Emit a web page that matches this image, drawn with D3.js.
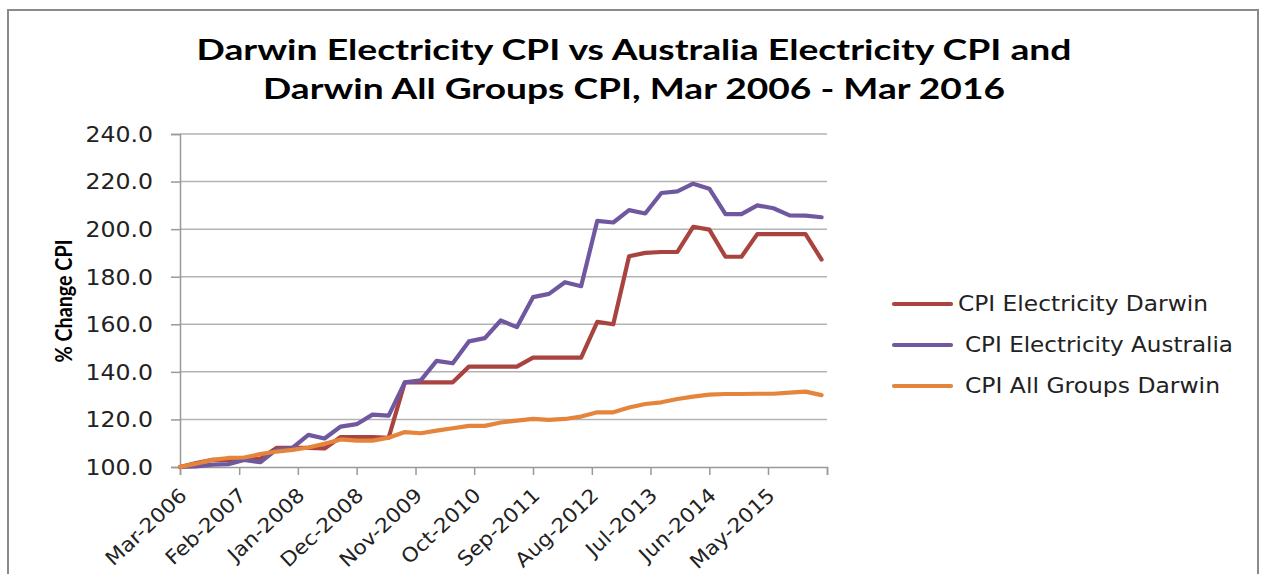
<!DOCTYPE html>
<html>
<head>
<meta charset="utf-8">
<script src="https://cdn.jsdelivr.net/npm/d3@7"></script>
<style>
  body { margin: 0; background: #fff; }
  svg { display: block; }
</style>
</head>
<body>
<svg id="chart"></svg>
<script>
const width = 1263;
const height = 574;

// quarterly observations, Mar 2006 - Mar 2016
var quarters = [
  "2006-03","2006-06","2006-09","2006-12","2007-03","2007-06","2007-09","2007-12",
  "2008-03","2008-06","2008-09","2008-12","2009-03","2009-06","2009-09","2009-12",
  "2010-03","2010-06","2010-09","2010-12","2011-03","2011-06","2011-09","2011-12",
  "2012-03","2012-06","2012-09","2012-12","2013-03","2013-06","2013-09","2013-12",
  "2014-03","2014-06","2014-09","2014-12","2015-03","2015-06","2015-09","2015-12",
  "2016-03"
];

var elecDarwin = [
  100, 101.7, 103, 103, 103.2, 103.5, 108, 108, 108, 107.8,
  112.6, 112.6, 112.6, 112.3, 135.6, 135.6, 135.6, 135.6, 142.2, 142.2,
  142.2, 142.2, 146, 146, 146, 146, 161, 160, 188.6, 190,
  190.4, 190.4, 201, 199.8, 188.4, 188.4, 197.9, 197.9, 197.9, 197.9,
  187.2
];

var elecAustralia = [
  100, 100.2, 101, 101.2, 103, 102, 107.3, 108, 113.5, 112,
  117, 118, 122, 121.6, 135.6, 136.4, 144.6, 143.6, 152.8, 154.2,
  161.6, 158.8, 171.4, 172.8, 177.7, 176, 203.5, 202.8, 208, 206.6,
  215.2, 215.9, 219.1, 217, 206.3, 206.3, 210, 208.8, 205.8, 205.7,
  205
];

var allGroupsDarwin = [
  100, 101.4, 103, 103.8, 104, 105.4, 106.5, 107.2, 108.2, 109.8,
  111.6, 111.1, 111.1, 112.3, 114.7, 114.2, 115.3, 116.3, 117.3, 117.3,
  118.7, 119.5, 120.2, 119.8, 120.2, 121.2, 123, 123, 125, 126.5,
  127.2, 128.6, 129.6, 130.4, 130.7, 130.7, 130.8, 130.8, 131.3, 131.7,
  130.2
];

var seriesNames = ["CPI Electricity Darwin", "CPI Electricity Australia", "CPI All Groups Darwin"];
var seriesColors = ["#A9433F", "#6F58A0", "#E5853C"];

var yTicks = [100, 120, 140, 160, 180, 200, 220, 240];
var xTickLabels = ["Mar-2006", "Feb-2007", "Jan-2008", "Dec-2008", "Nov-2009", "Oct-2010",
                   "Sep-2011", "Aug-2012", "Jul-2013", "Jun-2014", "May-2015"];
var xAxisEnd = "Apr-2016";

var titleLines = ["Darwin Electricity CPI vs Australia Electricity CPI and",
                  "Darwin All Groups CPI, Mar 2006 - Mar 2016"];

var parseQ = d3.timeParse("%Y-%m");
var parseTick = d3.timeParse("%b-%Y");

var plot = { left: 180, right: 827, top: 134, bottom: 467 };

var xScale = d3.scaleTime()
  .domain([parseTick(xTickLabels[0]), parseTick(xAxisEnd)])
  .range([plot.left, plot.right]);
var yScale = d3.scaleLinear().domain([100, 240]).range([plot.bottom, plot.top]);

var svg = d3.select("#chart").attr("width", width).attr("height", height);

// stretch text horizontally the way the source picture is
function stretch(sel, k) {
  sel.each(function() {
    var w = this.getComputedTextLength();
    d3.select(this).attr("textLength", w * k).attr("lengthAdjust", "spacingAndGlyphs");
  });
}

svg.append("rect")
  .attr("x", 8).attr("y", 10).attr("width", 1250).attr("height", 600)
  .attr("fill", "none").attr("stroke", "#8a8a8a").attr("stroke-width", 2);

// title
svg.selectAll("text.title")
  .data(titleLines)
  .enter()
  .append("text")
  .attr("class", "title")
  .attr("x", 634)
  .attr("y", (d, i) => 60 + i * 39)
  .attr("text-anchor", "middle")
  .attr("font-family", "Lato, 'Open Sans', sans-serif")
  .attr("font-weight", "bold")
  .attr("font-size", 29)
  .attr("fill", "#000")
  .attr("textLength", (d, i) => i == 0 ? 875 : 742)
  .attr("lengthAdjust", "spacingAndGlyphs")
  .text(d => d);

// gridlines
svg.append("g")
  .selectAll("line")
  .data(yTicks.slice(1))
  .enter()
  .append("line")
  .attr("x1", plot.left).attr("x2", plot.right)
  .attr("y1", d => yScale(d)).attr("y2", d => yScale(d))
  .attr("stroke", "#b3b3b3").attr("stroke-width", 1.5);

// y axis
var yAxis = svg.append("g")
  .attr("transform", `translate(${plot.left},0)`)
  .call(d3.axisLeft(yScale).tickValues(yTicks).tickSize(9).tickPadding(18).tickFormat(d3.format(".1f")));
yAxis.select(".domain").attr("stroke", "#999").attr("stroke-width", 1.5);
yAxis.selectAll(".tick line").attr("stroke", "#999").attr("stroke-width", 1.5);
yAxis.selectAll(".tick text")
  .attr("font-family", "'DejaVu Sans', Verdana, sans-serif")
  .attr("font-size", 20.5)
  .attr("fill", "#222")
  .attr("dy", "0.36em");
stretch(yAxis.selectAll(".tick text"), 1.15);

// x axis
var xTicks = xTickLabels.map(parseTick).concat([parseTick(xAxisEnd)]);
var xAxis = svg.append("g")
  .attr("transform", `translate(0,${plot.bottom})`)
  .call(d3.axisBottom(xScale).tickValues(xTicks).tickSize(8).tickFormat(""));
xAxis.select(".domain").attr("stroke", "#999").attr("stroke-width", 1.5);
xAxis.selectAll(".tick line").attr("stroke", "#999").attr("stroke-width", 1.5);

svg.append("g")
  .selectAll("text")
  .data(xTickLabels)
  .enter()
  .append("text")
  .attr("transform", d => `translate(${xScale(parseTick(d)) + 8},${plot.bottom + 30}) rotate(-43)`)
  .attr("text-anchor", "end")
  .attr("font-family", "'DejaVu Sans', Verdana, sans-serif")
  .attr("font-size", 20)
  .attr("fill", "#222")
  .text(d => d)
  .call(stretch, 1.08);

// y axis title
svg.append("text")
  .attr("transform", "translate(72,301) rotate(-90)")
  .attr("text-anchor", "middle")
  .attr("font-family", "Lato, 'Open Sans', sans-serif")
  .attr("font-weight", "bold")
  .attr("font-size", 22)
  .attr("textLength", 123)
  .attr("lengthAdjust", "spacingAndGlyphs")
  .text("% Change CPI");

// series
var dates = quarters.map(parseQ);
var series = [elecDarwin, elecAustralia, allGroupsDarwin];
var lineGenerator = d3.line()
  .x((d, i) => xScale(dates[i]))
  .y(d => yScale(d));

svg.append("g")
  .selectAll("path")
  .data(series)
  .enter()
  .append("path")
  .attr("d", d => lineGenerator(d))
  .attr("fill", "none")
  .attr("stroke", (d, i) => seriesColors[i])
  .attr("stroke-width", 4.2)
  .attr("stroke-linejoin", "round")
  .attr("stroke-linecap", "round");

// legend
var legendY = [304, 345, 386];
var legendTextX = [958, 965, 965];
var legendTextW = [250, 268, 255];
var legend = svg.append("g")
  .selectAll("g")
  .data(seriesNames)
  .enter()
  .append("g");
legend.append("line")
  .attr("x1", 894).attr("x2", 951)
  .attr("y1", (d, i) => legendY[i]).attr("y2", (d, i) => legendY[i])
  .attr("stroke", (d, i) => seriesColors[i])
  .attr("stroke-width", 4.2)
  .attr("stroke-linecap", "round");
legend.append("text")
  .attr("x", (d, i) => legendTextX[i])
  .attr("y", (d, i) => legendY[i])
  .attr("dy", "0.36em")
  .attr("font-family", "'DejaVu Sans', Verdana, sans-serif")
  .attr("font-size", 20.5)
  .attr("fill", "#222")
  .attr("textLength", (d, i) => legendTextW[i])
  .attr("lengthAdjust", "spacingAndGlyphs")
  .text(d => d);
</script>
</body>
</html>
